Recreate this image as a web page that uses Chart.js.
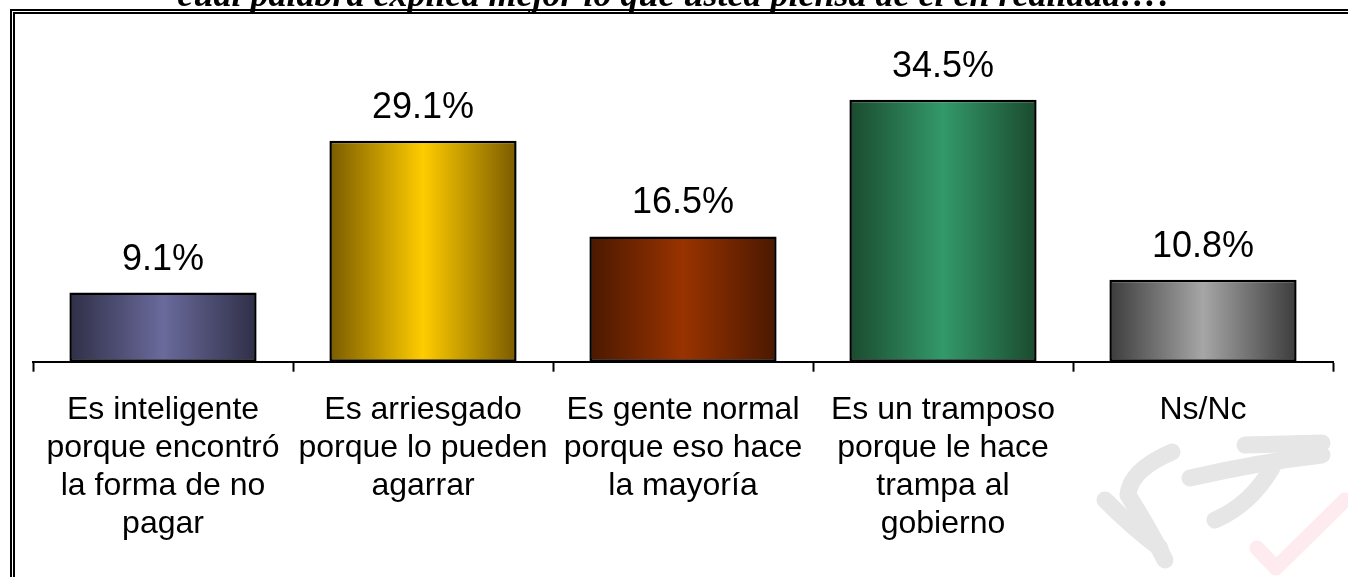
<!DOCTYPE html>
<html>
<head>
<meta charset="utf-8">
<script src="https://cdn.jsdelivr.net/npm/chart.js@4"></script>
<style>
  html, body { margin: 0; padding: 0; background: #fff; overflow: hidden; }
  #wrap { position: relative; width: 1348px; height: 577px; overflow: hidden; }
  #myChart { position: absolute; left: 0; top: 0; }
  #frame {
    position: absolute; left: 10px; top: 9px; width: 1400px; height: 600px;
    border-top: 5px double #000; border-left: 5px double #000;
  }
  #title {
    position: absolute; left: 2px; width: 1348px; top: -24px; text-align: center;
    font-family: "Liberation Serif", "Times New Roman", serif;
    font-weight: bold; font-style: italic; font-size: 36px; line-height: 36px; color: #000;
    white-space: nowrap;
  }
</style>
</head>
<body>
<div id="wrap">
  <canvas id="myChart" width="1348" height="577"></canvas>
  <div id="frame"></div>
  <div id="title">cuál palabra explica mejor lo que usted piensa de él en realidad…?</div>
</div>
<script>
let categories = [
	["Es inteligente", "porque encontró", "la forma de no", "pagar"],
	["Es arriesgado", "porque lo pueden", "agarrar"],
	["Es gente normal", "porque eso hace", "la mayoría"],
	["Es un tramposo", "porque le hace", "trampa al", "gobierno"],
	["Ns/Nc"]
];
let percentages = [9.1, 29.1, 16.5, 34.5, 10.8];
// edge colour, centre colour for each bar
let edgeColors = ["#2f2f47", "#7a5b00", "#4a1800", "#1a4a2e", "#3c3c3c"];
let centerColors = ["#6a6a9c", "#ffcc00", "#993300", "#33996a", "#a6a6a6"];

function barFill(context) {
	let chart = context.chart;
	let i = context.dataIndex;
	if (!chart.chartArea || i === undefined) return centerColors[i] || "#888";
	let x = chart.scales.x.getPixelForValue(i);
	let half = (chart.chartArea.width / categories.length) * 0.72 / 2;
	let g = chart.ctx.createLinearGradient(x - half, 0, x + half, 0);
	g.addColorStop(0, edgeColors[i]);
	g.addColorStop(0.5, centerColors[i]);
	g.addColorStop(1, edgeColors[i]);
	return g;
}

// value labels above bars
const valueLabels = {
	id: "valueLabels",
	afterDatasetsDraw(chart) {
		let ctx = chart.ctx;
		let meta = chart.getDatasetMeta(0);
		ctx.save();
		ctx.font = "36px 'Liberation Sans', Arial, sans-serif";
		ctx.fillStyle = "#000";
		ctx.textAlign = "center";
		ctx.textBaseline = "alphabetic";
		meta.data.forEach(function (bar, i) {
			ctx.fillText(percentages[i].toFixed(1) + "%", bar.x, bar.y - 23);
		});
		ctx.restore();
	}
};

// faint logo in the lower right corner
const watermark = {
	id: "watermark",
	beforeDraw(chart) {
		let ctx = chart.ctx;
		ctx.save();
		ctx.lineCap = "round";
		ctx.lineJoin = "round";
		ctx.strokeStyle = "#e6e6e6";
		ctx.lineWidth = 17;
		ctx.beginPath();
		ctx.moveTo(1172, 452);
		ctx.quadraticCurveTo(1130, 470, 1128, 495);
		ctx.quadraticCurveTo(1150, 530, 1165, 560);
		ctx.stroke();
		ctx.beginPath();
		ctx.moveTo(1105, 500);
		ctx.quadraticCurveTo(1135, 530, 1160, 548);
		ctx.stroke();
		ctx.beginPath();
		ctx.moveTo(1190, 478);
		ctx.quadraticCurveTo(1260, 462, 1322, 455);
		ctx.stroke();
		ctx.beginPath();
		ctx.moveTo(1245, 445);
		ctx.lineTo(1322, 443);
		ctx.stroke();
		ctx.beginPath();
		ctx.moveTo(1272, 468);
		ctx.quadraticCurveTo(1250, 505, 1215, 520);
		ctx.stroke();
		ctx.strokeStyle = "#fdebf0";
		ctx.lineWidth = 15;
		ctx.beginPath();
		ctx.moveTo(1257, 548);
		ctx.lineTo(1276, 568);
		ctx.lineTo(1345, 500);
		ctx.stroke();
		ctx.restore();
	}
};

var ctx = document.getElementById("myChart");
var chart = new Chart(ctx, {
	type: "bar",
	data: {
		labels: categories,
		datasets: [
			{
				data: percentages,
				backgroundColor: barFill,
				borderColor: "#000",
				borderWidth: 2.5,
				borderSkipped: false,
				barPercentage: 0.72,
				categoryPercentage: 1
			}
		]
	},
	options: {
		responsive: false,
		animation: false,
		events: [],
		layout: { padding: { left: 33, right: 15, top: 58, bottom: 15 } },
		plugins: {
			legend: { display: false },
			tooltip: { enabled: false }
		},
		scales: {
			x: {
				offset: true,
				grid: {
					offset: true,
					drawOnChartArea: false,
					drawTicks: true,
					tickLength: 10,
					color: "#000",
					tickWidth: 2
				},
				border: { display: true, color: "#000", width: 2 },
				ticks: {
					autoSkip: false,
					maxRotation: 0,
					color: "#000",
					padding: 19,
					font: { family: "'Liberation Sans', Arial, sans-serif", size: 32, lineHeight: 1.19 }
				}
			},
			y: {
				display: false,
				min: 0,
				max: 40
			}
		}
	},
	plugins: [watermark, valueLabels]
});
</script>
</body>
</html>
